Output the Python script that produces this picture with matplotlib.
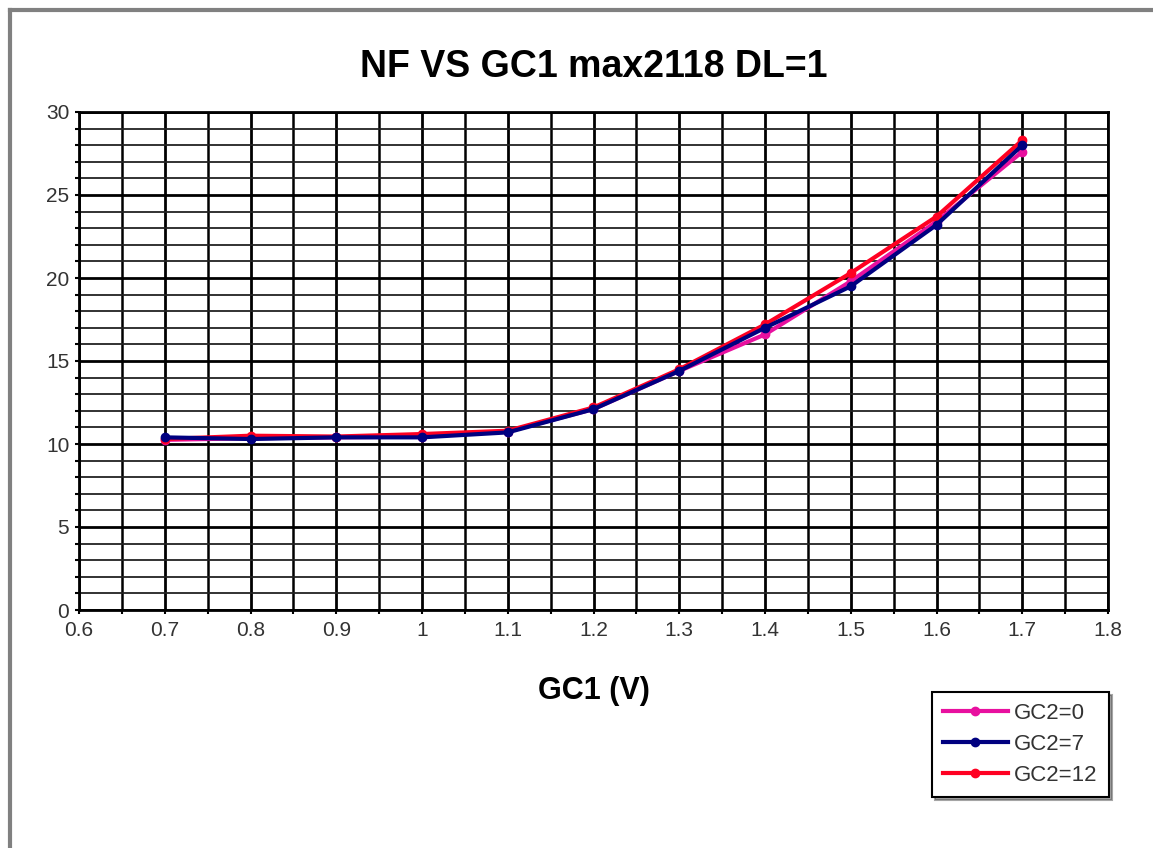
import numpy as np
import matplotlib.pyplot as plt
from matplotlib.lines import Line2D
from matplotlib.ticker import MultipleLocator

plt.rcParams['font.family'] = ['Liberation Sans', 'DejaVu Sans']

# data
gc1 = [0.7, 0.8, 0.9, 1.0, 1.1, 1.2, 1.3, 1.4, 1.5, 1.6, 1.7]
nf_gc2_0 = [10.25, 10.35, 10.4, 10.45, 10.75, 12.1, 14.4, 16.6, 19.8, 23.4, 27.6]
nf_gc2_7 = [10.4, 10.3, 10.4, 10.4, 10.7, 12.1, 14.4, 17.0, 19.5, 23.2, 28.0]
nf_gc2_12 = [10.3, 10.5, 10.45, 10.6, 10.8, 12.2, 14.5, 17.2, 20.3, 23.7, 28.3]

series_labels = ["GC2=0", "GC2=7", "GC2=12"]
series_colors = ["#E8109F", "#000080", "#FF0022"]

fig = plt.figure(figsize=(11.53, 8.48), dpi=100)
ax = fig.add_axes([79/1153, 1 - 610/848, (1108-79)/1153, (610-112)/848])

lines = []
for y, lab, c, z in zip([nf_gc2_0, nf_gc2_7, nf_gc2_12], series_labels, series_colors, [3, 5, 4]):
    ln, = ax.plot(gc1, y, color=c, lw=3, marker="o", ms=6, label=lab, zorder=z)
    lines.append(ln)

ax.set_xlim(0.6, 1.8)
ax.set_ylim(0, 30)
ax.xaxis.set_major_locator(MultipleLocator(0.1))
ax.xaxis.set_minor_locator(MultipleLocator(0.05))
ax.yaxis.set_major_locator(MultipleLocator(5))
ax.yaxis.set_minor_locator(MultipleLocator(1))
ax.set_xticklabels([f"{v:g}" for v in ax.get_xticks()])
ax.grid(which="major", color="black", lw=2)
ax.grid(which="minor", axis="x", color="black", lw=1.8)
ax.grid(which="minor", axis="y", color="#222222", lw=1.3)
ax.set_axisbelow(True)
for s in ax.spines.values():
    s.set_linewidth(2)
ax.tick_params(which="both", length=3, width=1.5, colors="black", labelcolor="#333333", labelsize=15)
ax.tick_params(axis="x", which="major", pad=5)
ax.tick_params(axis="y", which="major", pad=4)

ax.set_title("NF VS GC1 max2118 DL=1", fontsize=27, fontweight="bold", pad=25)
ax.set_xlabel("GC1 (V)", fontsize=22, fontweight="bold", labelpad=26)

leg = ax.legend(handles=lines, loc="upper left", bbox_to_anchor=(932/1153, 1 - 692/848),
                bbox_transform=fig.transFigure, fontsize=16, frameon=True, fancybox=False,
                shadow=True, edgecolor="black", borderpad=0.5, handlelength=2.9,
                labelspacing=0.45, handletextpad=0.3, borderaxespad=0)
leg.get_frame().set_linewidth(1.5)
for t in leg.get_texts():
    t.set_color("#333333")

# gray window border at left and top
fig.add_artist(Line2D([10/1153, 10/1153], [0, 1 - 10/848], color="#808080", lw=3, transform=fig.transFigure))
fig.add_artist(Line2D([10/1153, 1], [1 - 10/848, 1 - 10/848], color="#808080", lw=3, transform=fig.transFigure))

fig.savefig("out.png", dpi=100)
